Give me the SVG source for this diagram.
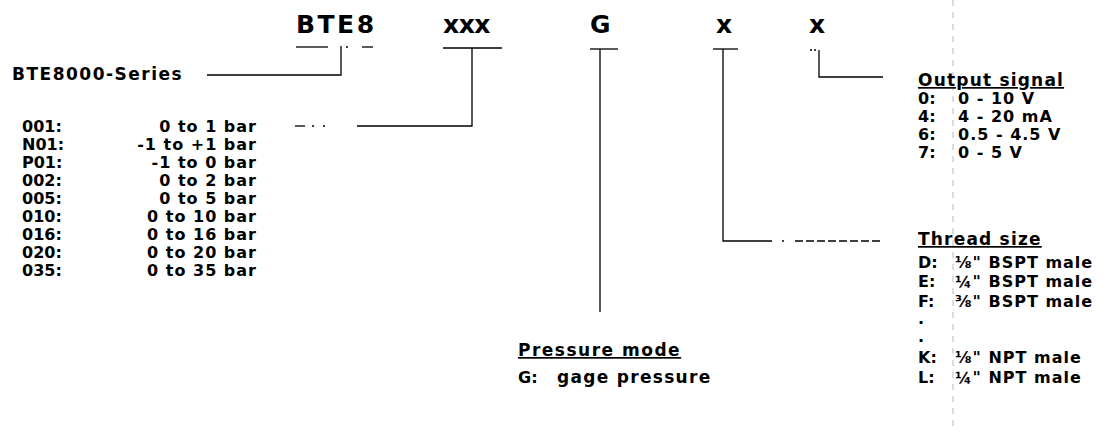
<svg xmlns="http://www.w3.org/2000/svg" width="1109" height="432" viewBox="0 0 1109 432">
<style>
text{font-family:"DejaVu Sans","Liberation Sans",sans-serif;font-weight:bold;fill:#000;font-size:16px;letter-spacing:1px}
.big{font-size:25px;letter-spacing:0}
.hdr{font-size:17px;letter-spacing:1.2px;text-decoration:underline}
.k{letter-spacing:0}
.r{text-anchor:end}
.c line,.c path{stroke:#000;stroke-width:1.3;fill:none}
.scan{stroke:#bbb;stroke-width:1;stroke-dasharray:6 6}
</style>
<rect width="1109" height="432" fill="#fff"/>
<line class="scan" x1="953" y1="0" x2="953" y2="432"/>
<g id="code">
<text class="big" x="296" y="33" style="letter-spacing:2.5px">BTE8</text>
<text class="big" x="443" y="33" style="letter-spacing:-0.5px">xxx</text>
<text class="big" x="590" y="33">G</text>
<text class="big" x="716" y="33">x</text>
<text class="big" x="809" y="33">x</text>
</g>
<g class="c" id="connectors">
<line x1="296" y1="47" x2="328" y2="47"/>
<line x1="346" y1="47" x2="348" y2="47"/>
<line x1="362" y1="47" x2="373" y2="47"/>
<path d="M341 46 V75 H207"/>
<line x1="443" y1="48" x2="502" y2="48"/>
<path d="M472 48 V126 H357"/>
<line x1="295" y1="126" x2="305" y2="126"/>
<line x1="312" y1="126" x2="314" y2="126"/>
<line x1="323" y1="126" x2="325" y2="126"/>
<line x1="590" y1="49" x2="618" y2="49"/>
<line x1="600" y1="49" x2="600" y2="312"/>
<line x1="713" y1="49" x2="738" y2="49"/>
<path d="M723 49 V241 H772"/>
<line x1="782" y1="241" x2="784" y2="241"/>
<line x1="795" y1="241" x2="883" y2="241" stroke-dasharray="8 3"/>
<line x1="810" y1="50" x2="816" y2="50" stroke-dasharray="2 2"/>
<path d="M819 50 V77 H883"/>
</g>
<g id="series">
<text x="12" y="80" style="font-size:17px;letter-spacing:1.5px">BTE8000-Series</text>
</g>
<g id="ranges">
<text class="k" x="22" y="132">001:</text><text class="r" x="257" y="132">0 to 1 bar</text>
<text class="k" x="22" y="150">N01:</text><text class="r" x="257" y="150">-1 to +1 bar</text>
<text class="k" x="22" y="168">P01:</text><text class="r" x="257" y="168">-1 to 0 bar</text>
<text class="k" x="22" y="186">002:</text><text class="r" x="257" y="186">0 to 2 bar</text>
<text class="k" x="22" y="204">005:</text><text class="r" x="257" y="204">0 to 5 bar</text>
<text class="k" x="22" y="222">010:</text><text class="r" x="257" y="222">0 to 10 bar</text>
<text class="k" x="22" y="240">016:</text><text class="r" x="257" y="240">0 to 16 bar</text>
<text class="k" x="22" y="258">020:</text><text class="r" x="257" y="258">0 to 20 bar</text>
<text class="k" x="22" y="276">035:</text><text class="r" x="257" y="276">0 to 35 bar</text>
</g>
<g id="pressure-mode">
<text class="hdr" x="518" y="356" style="letter-spacing:1.5px">Pressure mode</text>
<text class="k" x="518" y="383">G:</text><text x="557" y="383" style="font-size:17px;letter-spacing:1.3px">gage pressure</text>
</g>
<g id="output-signal">
<text class="hdr" x="918" y="86">Output signal</text>
<text class="k" x="918" y="104">0:</text><text x="958" y="104">0 - 10 V</text>
<text class="k" x="918" y="122">4:</text><text x="958" y="122">4 - 20 mA</text>
<text class="k" x="918" y="140">6:</text><text x="958" y="140">0.5 - 4.5 V</text>
<text class="k" x="918" y="158">7:</text><text x="958" y="158">0 - 5 V</text>
</g>
<g id="thread-size">
<text class="hdr" x="918" y="245">Thread size</text>
<text class="k" x="918" y="268">D:</text><text x="955" y="268">⅛" BSPT male</text>
<text class="k" x="918" y="287">E:</text><text x="955" y="287">¼" BSPT male</text>
<text class="k" x="918" y="307">F:</text><text x="955" y="307">⅜" BSPT male</text>
<text class="k" x="918" y="324">.</text>
<text class="k" x="918" y="342">.</text>
<text class="k" x="918" y="363">K:</text><text x="955" y="363">⅛" NPT male</text>
<text class="k" x="918" y="383">L:</text><text x="955" y="383">¼" NPT male</text>
</g>
</svg>
